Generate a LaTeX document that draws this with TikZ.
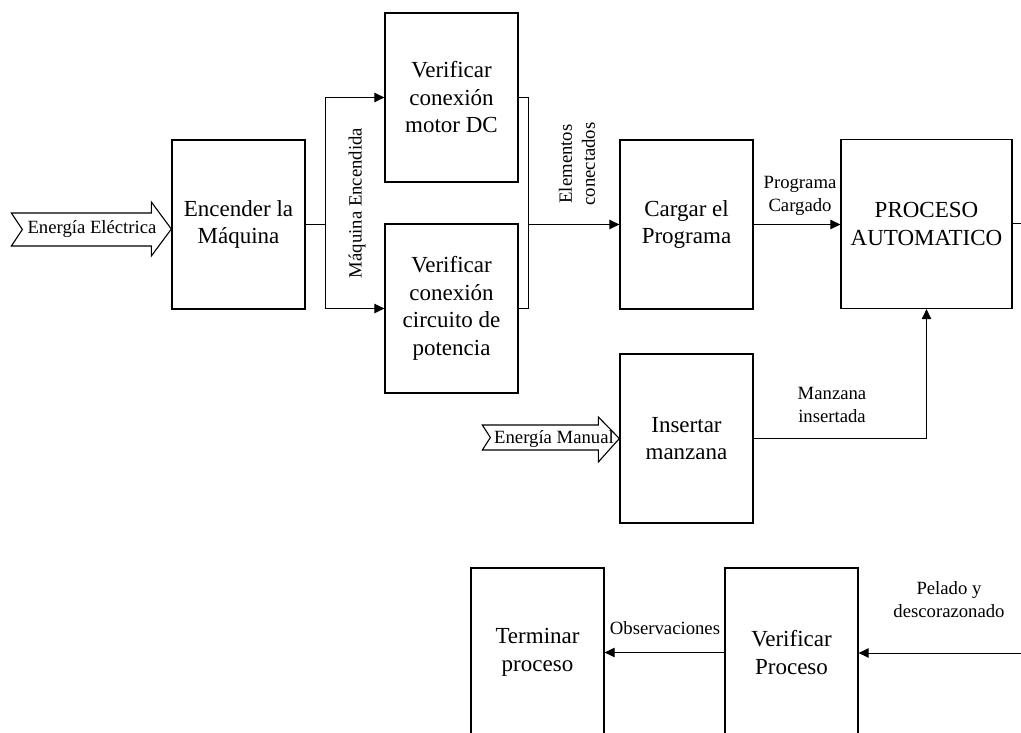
\documentclass[tikz,border=0pt]{standalone}
\usepackage{fontspec}
\setmainfont{Liberation Serif}
\usetikzlibrary{arrows.meta}
\begin{document}
\begin{tikzpicture}[x=1pt,y=-1pt,
  blk/.style={draw,line width=1.3pt,minimum width=133pt,minimum height=169pt,
    align=center,inner sep=0pt,font=\fontsize{23}{27.5}\selectfont},
  lbl/.style={align=center,inner sep=0pt,font=\fontsize{18.7}{23}\selectfont},
  con/.style={line width=1pt},
  arr/.style={con,-{Triangle[length=10pt,width=9.5pt]}},
  fat/.style={draw,line width=1.1pt,fill=white,line join=miter}]
\useasboundingbox (0,0) rectangle (1021,733);

% process blocks
\node[blk] (enc) at (238.5,224.5) {Encender la\\Máquina};
\node[blk] (mot) at (451.5,97.5) {Verificar\\conexión\\motor DC};
\node[blk] (cir) at (451.5,308.5) {Verificar\\conexión\\circuito de\\potencia};
\node[blk] (car) at (686.5,224.5) {Cargar el\\Programa};
\node[blk,minimum width=171pt] (pro) at (926.5,224) {PROCESO\\AUTOMATICO};
\node[blk] (ins) at (686.5,438.5) {Insertar\\manzana};
\node[blk] (vpr) at (791.5,652.5) {Verificar\\Proceso};
\node[blk] (ter) at (537.5,652.5) {Terminar\\proceso};

% junctions and free ends
\coordinate (j1) at (325,224.5);
\coordinate (j2) at (528,224.5);
\coordinate (out) at (1021,224);
\coordinate (inp) at (1021,653);

% energy inputs (notched block arrows)
\draw[fat] ([yshift=-4.5pt]enc.west) -- ++(-20,-27) -- ++(0,11) -- ++(-140,0)
  -- ++(11,16.5) -- ++(-11,16.5) -- ++(140,0) -- ++(0,10) -- cycle;
\node[lbl] (eel) at (92,229) {Energía Eléctrica};
\draw[fat] (ins.west) -- ++(-21,-21.5) -- ++(0,8) -- ++(-116,0)
  -- ++(8,12.5) -- ++(-8,12.5) -- ++(116,0) -- ++(0,12) -- cycle;
\node[lbl] (ema) at (554,439) {Energía Manual};

% connectors
\draw[con] (enc.east) -- (j1);
\draw[arr] (j1) |- (mot.west);
\draw[arr] (j1) |- (cir.west);
\draw[con] (mot.east) -| (j2);
\draw[con] (cir.east) -| (j2);
\draw[arr] (j2) -- (car.west);
\draw[arr] (car.east) -- (car.east -| pro.west);
\draw[arr] (ins.east) -| (pro.south);
\draw[con] (pro.east) -- (out);
\draw[arr] (inp) -- (inp -| vpr.east);
\draw[arr] (vpr.west) -- (ter.east);

% connector labels
\node[lbl,rotate=90] (lme) at (357,203) {Máquina Encendida};
\node[lbl,rotate=90] (lec) at (577,164) {Elementos\\conectados};
\node[lbl] (lpc) at (800,196) {Programa\\Cargado};
\node[lbl] (lmi) at (832,405) {Manzana\\insertada};
\node[lbl] (lpd) at (949,600) {Pelado y\\descorazonado};
\node[lbl] (lob) at (665,628) {Observaciones};
\end{tikzpicture}
\end{document}
